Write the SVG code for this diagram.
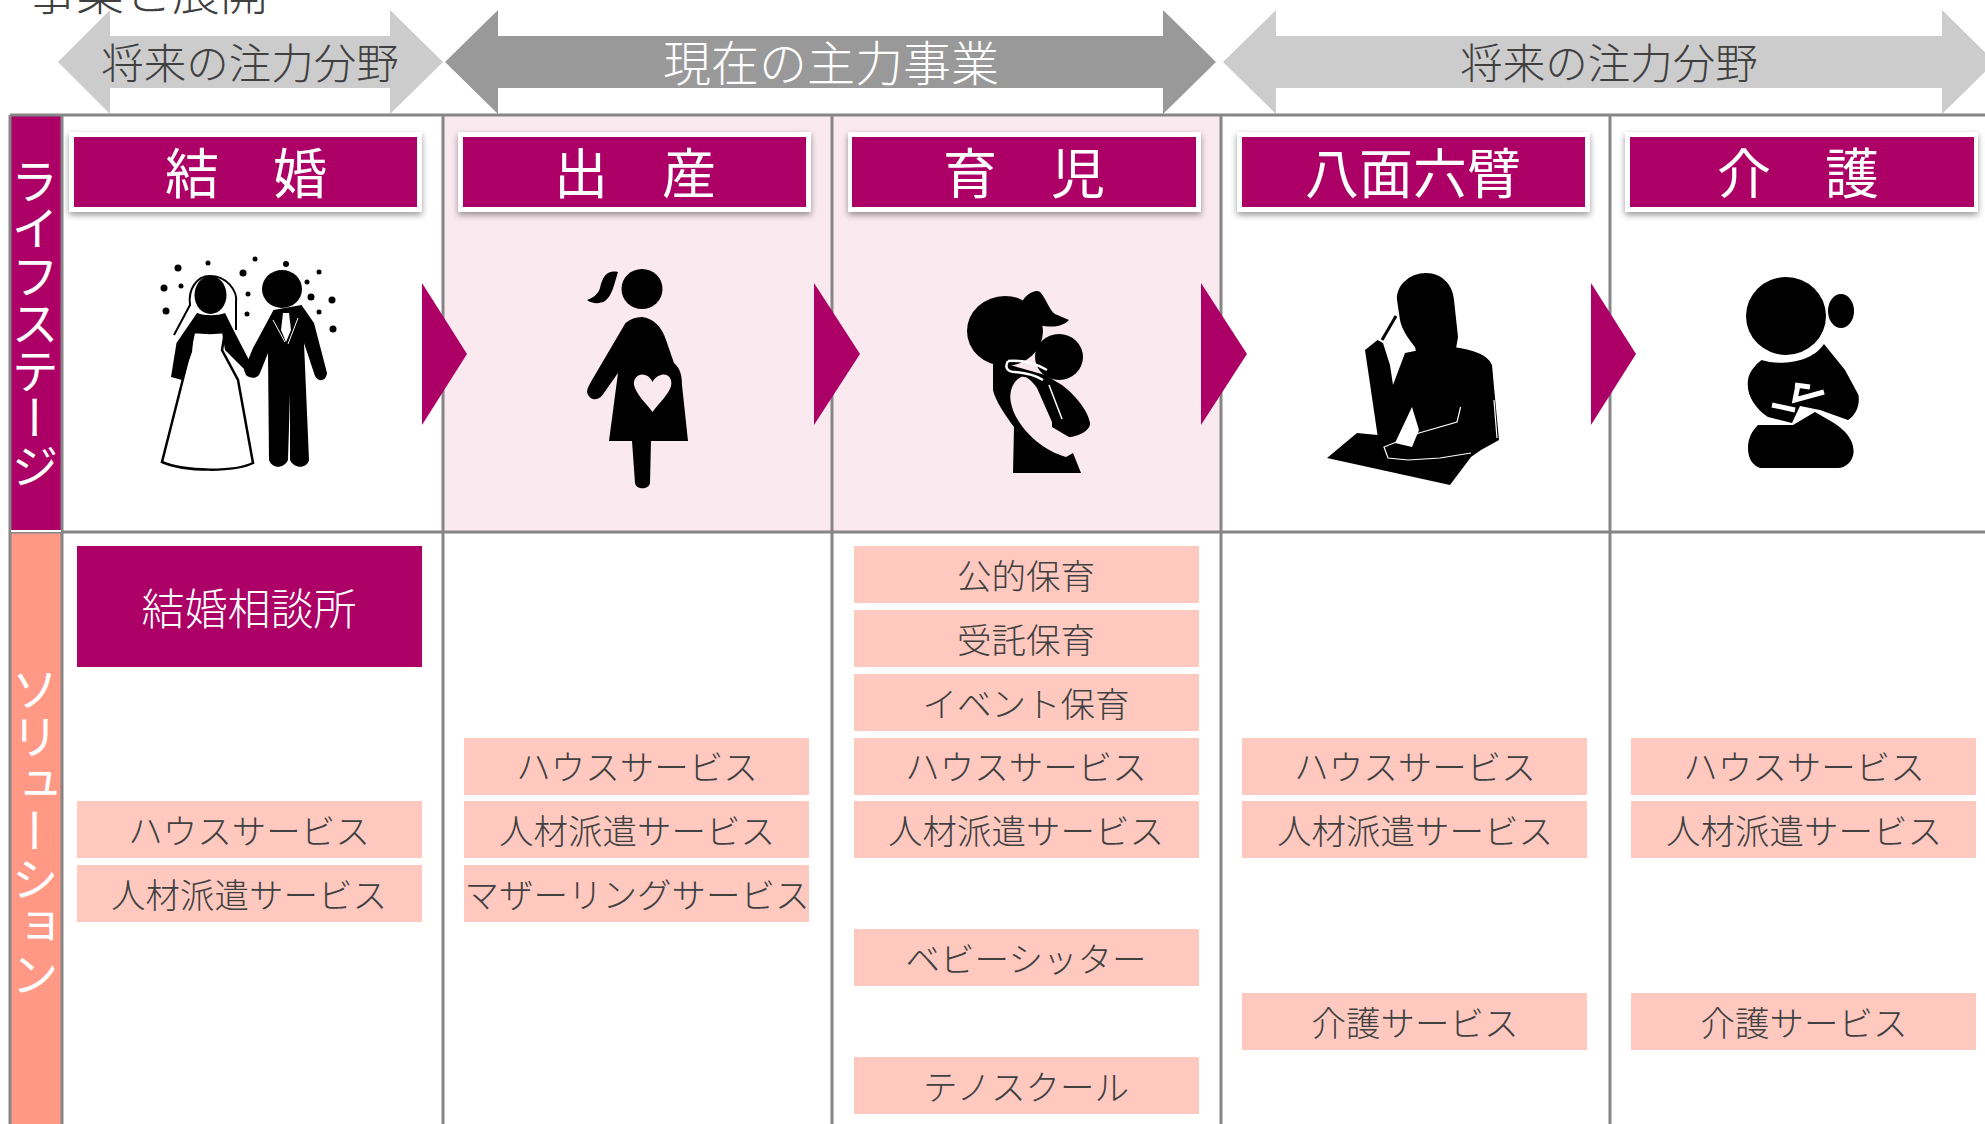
<svg xmlns="http://www.w3.org/2000/svg" width="1985" height="1124" viewBox="0 0 1985 1124">
<defs>
<filter id="sh" x="-5%" y="-15%" width="110%" height="135%"><feDropShadow dx="0" dy="3" stdDeviation="3" flood-color="#000" flood-opacity="0.4"/></filter>
</defs>
<style>
text{font-family:"Noto Sans CJK JP","Noto Sans",sans-serif;font-weight:300;text-anchor:middle}
.it{fill:#FFC9C0}
.it-t{font-size:34.500px;fill:#404040;dominant-baseline:central;transform:translateY(-1.500px)}
.hd{fill:#AD0066}
.card{fill:#fff;filter:url(#sh)}
.hd-t{font-size:54px;fill:#fff;font-weight:400;dominant-baseline:central}
.ar{font-size:42.500px;fill:#404040;dominant-baseline:central}
.v{font-size:47.500px;fill:#fff;writing-mode:vertical-rl;font-weight:400}
.tri{fill:#AD0066}
.ln{stroke:#868686;stroke-width:3;fill:none}
.k{fill:#000}
</style>
<rect width="1985" height="1124" fill="#fff"/>
<text x="148" y="10" font-size="48" fill="#404040">事業と展開</text>

<g id="arrow-left">
<polygon points="58,62 110,10 110,36 390,36 390,10 443,62 390,114 390,88 110,88 110,114" fill="#CCCCCC"/>
<text class="ar" x="250" y="60">将来の注力分野</text>
</g>
<g id="arrow-center">
<polygon points="445,62 498,10 498,36 1163,36 1163,10 1216,62 1163,114 1163,88 498,88 498,114" fill="#999999"/>
<text class="ar" x="831" y="60" style="font-size:48px;fill:#fff">現在の主力事業</text>
</g>
<g id="arrow-right">
<polygon points="1223,62 1276,10 1276,36 1942,36 1942,10 1995,62 1942,114 1942,88 1276,88 1276,114" fill="#CCCCCC"/>
<text class="ar" x="1609" y="60">将来の注力分野</text>
</g>

<g id="table">
<rect x="443" y="116" width="778" height="415" fill="#FAE9EF"/>
<rect x="11" y="116" width="51" height="414" fill="#AD0066"/>
<rect x="11" y="533" width="51" height="591" fill="#FF9885"/>
<path class="ln" d="M10,115H1985M10,532H1985M10,115V1124M62,115V1124M443,115V1124M832,115V1124M1221,115V1124M1610,115V1124"/>
<path d="M11,531H61" stroke="#fff" stroke-width="2"/>
<text class="v" x="35" y="323">ライフステージ</text>
<text class="v" x="35" y="831">ソリューション</text>
</g>

<g id="stage-kekkon">
<rect class="card" x="69" y="132" width="353" height="80"/><rect class="hd" x="74" y="137" width="343" height="70"/>
<text class="hd-t" x="246" y="170" xml:space="preserve">結　婚</text>
<g class="k">
<path d="M194,332L210,333L225,332L222,350L238,380L253,463C235,472 185,472 162,462L187,363Z" fill="#fff" stroke="#000" stroke-width="2.500"/>
<path d="M197,313C205,316 217,316 225,313L235,333L250.500,363L245,370L225,350L222,332L210,333L194,332L192,352L182,380L171,377L176.500,343Z"/>
<ellipse cx="210.500" cy="295" rx="16" ry="19"/>
<path d="M174,335L190,305C188,290 196,276 210,276C226,276 238,290 236,303L236,330" fill="none" stroke="#000" stroke-width="2"/>
<ellipse cx="282" cy="289" rx="20" ry="19"/>
<path d="M273.500,310L301.500,305L314,323L327,373C326,382 318,382 315,376L304,343L309,460C307,469 294,469 290,460L290,393L288,460C284,469 272,469 269,460L268,353L260,373C258,379 250,379 246,375L244,370L253,348Z"/>
<path d="M283,313H289L291,330L286,342L281,330Z" fill="#fff"/>
<path d="M273,320L285,342M298,318L288,344" stroke="#fff" stroke-width="1" fill="none"/>
<circle cx="178" cy="268" r="3.500"/><circle cx="208" cy="263" r="2.500"/><circle cx="255" cy="259" r="2.500"/><circle cx="286" cy="264" r="3"/><circle cx="243" cy="273" r="3.500"/><circle cx="319" cy="272" r="2.500"/><circle cx="164" cy="288" r="3.500"/><circle cx="181" cy="286" r="2.500"/><circle cx="307" cy="282" r="2.500"/><circle cx="248" cy="294" r="2.500"/><circle cx="311" cy="297" r="3.500"/><circle cx="332" cy="300" r="3.500"/><circle cx="166" cy="311" r="3.500"/><circle cx="247" cy="314" r="2.500"/><circle cx="319" cy="312" r="2.500"/><circle cx="333" cy="329" r="3.500"/>
</g>
</g>
<g id="stage-shussan">
<rect class="card" x="458" y="132" width="353" height="80"/><rect class="hd" x="463" y="137" width="343" height="70"/>
<text class="hd-t" x="635" y="170" xml:space="preserve">出　産</text>
<g class="k">
<ellipse cx="642" cy="289" rx="20.500" ry="20"/>
<path d="M618,272C608,270 603,275 600,288C598,295 592,298 587,300C592,304 600,304 605,301C612,296 614,285 618,272Z"/>
<path d="M642,317C653,318 662,327 666,340L674,363C680,368 682,375 682,385L688,441H651L650,483C649,490 636,490 635,483L632,441H609L618,373L602.500,395C597,402 589,400 587,392C587,388 590,384 592,380L625.500,323C630,319 636,317 642,317Z"/>
<path d="M652.500,412C645,402 636,394 634,385C633,377 640,373 645,375C649,376 651,379 652.500,382C654,379 657,376 661,375C667,373 673,378 671,386C669,394 660,402 652.500,412Z" fill="#FAE9EF"/>
</g>
</g>
<g id="stage-ikuji">
<rect class="card" x="848" y="132" width="353" height="80"/><rect class="hd" x="852" y="137" width="344" height="70"/>
<text class="hd-t" x="1024" y="170" xml:space="preserve">育　児</text>
<g class="k">
<ellipse cx="1005" cy="331" rx="38" ry="35"/>
<path d="M1023,300C1028,293 1036,289 1040,292C1046,298 1049,310 1055,314L1069,320C1063,327 1050,328 1040,325L1030,345Z"/>
<ellipse cx="1059" cy="357" rx="24" ry="23"/>
<path d="M993,360L1045,375L1062,385C1075,395 1088,410 1090,423C1091,430 1078,437 1069,437L1052,427L1052,422L1037,388C1030,378 1025,376 1021,377C1011,382 1009,395 1011,403C1015,425 1040,450 1066,457L1073,453L1081,473H1013L1014,427C1005,415 995,400 993,390Z"/>
<path d="M1008,361C1020,360 1035,363 1047,370M1008,361C1004,368 1008,372 1015,372C1025,373 1035,375 1043,380" fill="none" stroke="#fff" stroke-width="2.500"/>
<path d="M1049,385L1062,419" stroke="#fff" stroke-width="1.500" fill="none"/>
</g>
</g>
<g id="stage-happou">
<rect class="card" x="1237" y="132" width="353" height="80"/><rect class="hd" x="1242" y="137" width="343" height="70"/>
<text class="hd-t" x="1413" y="170">八面六臂</text>
<g class="k">
<path d="M1397,300C1396,285 1410,273 1426,273C1442,273 1453,285 1454,300L1458,337L1454,360H1418L1415,347C1408,338 1402,330 1400,320Z"/>
<path d="M1405,353C1420,350 1440,345 1453.600,347C1475,350 1488,355 1492,365L1494,387L1499,440L1481,450L1471,457L1450,485L1327,458L1357,433L1377.500,435L1369,377L1365,350L1377.500,340L1383,343L1390,365L1393,385Z"/>
<path d="M1382,340L1396,316" stroke="#000" stroke-width="3" fill="none"/>
<path d="M1412,407L1395,443L1412,447L1419,430Z" fill="#fff"/>
<path d="M1460.600,407L1457,422L1419,433L1384,447L1388,458L1408,460L1440,458L1471,453M1494,400L1497,438" fill="none" stroke="#fff" stroke-width="1.200"/>
</g>
</g>
<g id="stage-kaigo">
<rect class="card" x="1625" y="132" width="353" height="80"/><rect class="hd" x="1630" y="137" width="344" height="70"/>
<text class="hd-t" x="1798" y="170" xml:space="preserve">介　護</text>
<g class="k">
<ellipse cx="1786" cy="316" rx="40" ry="39"/>
<ellipse cx="1841" cy="311" rx="13" ry="17"/>
<path d="M1824,344L1845,370L1858.500,395C1860,405 1856,415 1848,420L1820,410L1800,406L1792,423L1768,417C1755,408 1746,395 1748,380C1749,372 1755,365 1761.600,360C1775,365 1810,365 1824,344Z"/>
<path d="M1758,425L1793,425L1815,412L1834,423C1845,430 1854,440 1853.600,452C1853,462 1845,468 1838,468H1760C1752,465 1748,458 1748,448C1748,438 1752,431 1758,425Z"/>
<path d="M1798,385L1795,400L1824,392M1772,405L1795,410M1795,385L1810,387" stroke="#fff" stroke-width="5" fill="none"/>
</g>
</g>

<g id="transitions">
<polygon class="tri" points="422,283 467,354 422,425"/>
<polygon class="tri" points="814,283 860,354 814,425"/>
<polygon class="tri" points="1201,283 1247,354 1201,425"/>
<polygon class="tri" points="1591,283 1636,354 1591,425"/>
</g>

<g id="sol-kekkon">
<rect class="hd" x="77" y="546" width="345" height="121"/>
<text x="249" y="606" font-size="43" fill="#fff" font-weight="400" dominant-baseline="central">結婚相談所</text>
<rect class="it" x="77" y="801" width="345" height="57"/><text class="it-t" x="249" y="830">ハウスサービス</text>
<rect class="it" x="77" y="865" width="345" height="57"/><text class="it-t" x="249" y="894">人材派遣サービス</text>
</g>
<g id="sol-shussan">
<rect class="it" x="464" y="738" width="345" height="57"/><text class="it-t" x="637" y="766">ハウスサービス</text>
<rect class="it" x="464" y="801" width="345" height="57"/><text class="it-t" x="637" y="830">人材派遣サービス</text>
<rect class="it" x="464" y="865" width="345" height="57"/><text class="it-t" x="637" y="894">マザーリングサービス</text>
</g>
<g id="sol-ikuji">
<rect class="it" x="854" y="546" width="345" height="57"/><text class="it-t" x="1026" y="575">公的保育</text>
<rect class="it" x="854" y="610" width="345" height="57"/><text class="it-t" x="1026" y="639">受託保育</text>
<rect class="it" x="854" y="674" width="345" height="57"/><text class="it-t" x="1026" y="703">イベント保育</text>
<rect class="it" x="854" y="738" width="345" height="57"/><text class="it-t" x="1026" y="766">ハウスサービス</text>
<rect class="it" x="854" y="801" width="345" height="57"/><text class="it-t" x="1026" y="830">人材派遣サービス</text>
<rect class="it" x="854" y="929" width="345" height="57"/><text class="it-t" x="1026" y="958">ベビーシッター</text>
<rect class="it" x="854" y="1057" width="345" height="57"/><text class="it-t" x="1026" y="1086">テノスクール</text>
</g>
<g id="sol-happou">
<rect class="it" x="1242" y="738" width="345" height="57"/><text class="it-t" x="1415" y="766">ハウスサービス</text>
<rect class="it" x="1242" y="801" width="345" height="57"/><text class="it-t" x="1415" y="830">人材派遣サービス</text>
<rect class="it" x="1242" y="993" width="345" height="57"/><text class="it-t" x="1415" y="1022">介護サービス</text>
</g>
<g id="sol-kaigo">
<rect class="it" x="1631" y="738" width="345" height="57"/><text class="it-t" x="1804" y="766">ハウスサービス</text>
<rect class="it" x="1631" y="801" width="345" height="57"/><text class="it-t" x="1804" y="830">人材派遣サービス</text>
<rect class="it" x="1631" y="993" width="345" height="57"/><text class="it-t" x="1804" y="1022">介護サービス</text>
</g>
</svg>
